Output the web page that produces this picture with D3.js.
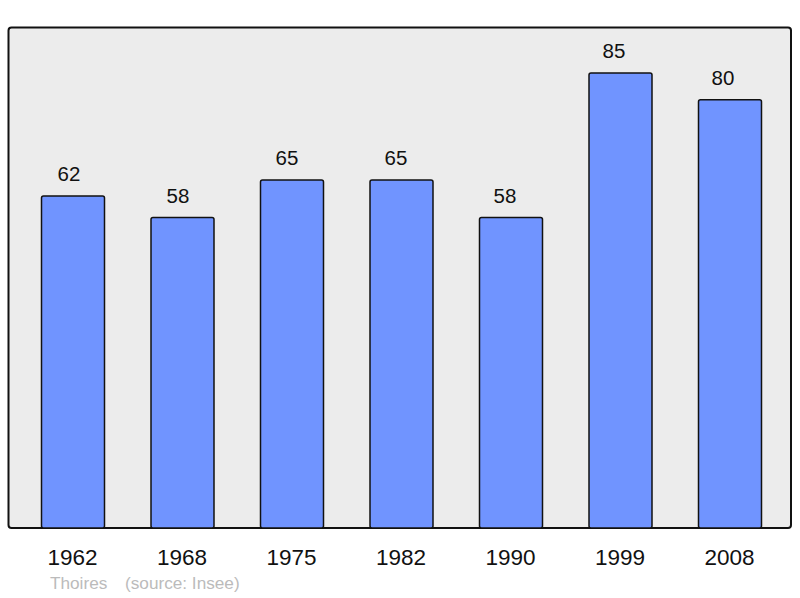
<!DOCTYPE html>
<html><head><meta charset="utf-8">
<script src="https://cdn.jsdelivr.net/npm/d3@7"></script>
<style>body{margin:0;background:#fff}svg{display:block}</style>
</head><body><svg id="c" width="800" height="598"></svg>
<script>
const years = ["1962","1968","1975","1982","1990","1999","2008"];
const population = [62,58,65,65,58,85,80];
const commune = "Thoires";
const source = "(source: Insee)";

const svg = d3.select("#c");
const font = "Liberation Sans, Arial, sans-serif";
const frame = {x0: 8.5, y0: 27.5, x1: 791, y1: 528};
svg.append("rect").attr("x", frame.x0).attr("y", frame.y0)
  .attr("width", frame.x1 - frame.x0).attr("height", frame.y1 - frame.y0)
  .attr("rx", 3).attr("fill", "#ececec").attr("stroke", "#111").attr("stroke-width", 2);

const x = d3.scalePoint().domain(years).range([73, 730]);
const xLabel = d3.scalePoint().domain(years).range([69, 723]);
const bw = 63;
const y = d3.scaleLinear().domain([0, 85]).range([528, 73]);

svg.selectAll("rect.bar").data(years).enter().append("rect")
  .attr("class", "bar")
  .attr("x", d => x(d) - bw/2)
  .attr("y", (d,i) => y(population[i]))
  .attr("width", bw)
  .attr("height", (d,i) => y(0) - y(population[i]))
  .attr("rx", 2)
  .attr("fill", "#7094ff").attr("stroke", "#111").attr("stroke-width", 1.5);

svg.selectAll("text.val").data(years).enter().append("text")
  .attr("x", d => xLabel(d)).attr("y", (d,i) => y(population[i]) - 15)
  .attr("text-anchor", "middle").attr("font-family", font)
  .attr("font-size", 20.5).attr("fill", "#111").text((d,i) => population[i]);

const xAxis = d3.axisBottom(x).tickSize(0).tickPadding(0);
const ax = svg.append("g").attr("transform", "translate(-1,565)").call(xAxis);
ax.select(".domain").remove();
ax.selectAll("text").attr("font-family", font)
  .attr("font-size", 22.5).attr("fill", "#111").attr("dy", "0");

svg.append("text").attr("x", 50).attr("y", 589).attr("font-family", font)
  .attr("font-size", 17.2).attr("fill", "#bbbbbb").text(commune);
svg.append("text").attr("x", 125).attr("y", 589).attr("font-family", font)
  .attr("font-size", 17.2).attr("fill", "#bbbbbb").text(source);
</script></body></html>
